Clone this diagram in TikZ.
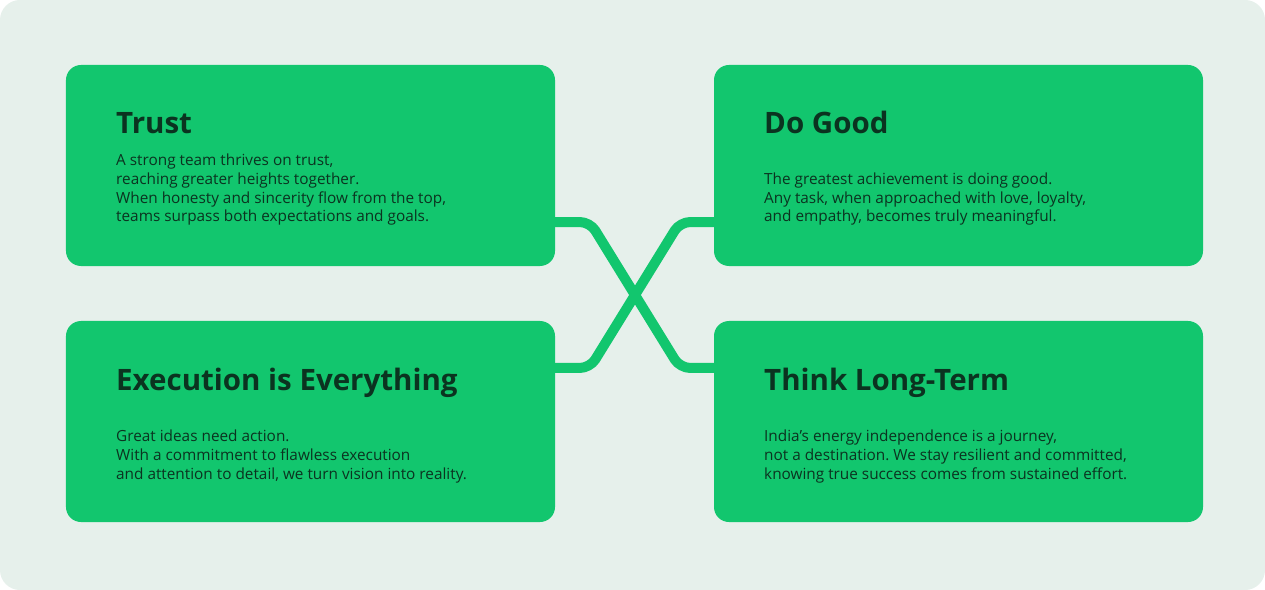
\documentclass[tikz,border=0pt]{standalone}
\usepackage{fontspec}
\setmainfont{Open Sans}
\frenchspacing
\definecolor{bg}{HTML}{E6F0EB}
\definecolor{grn}{HTML}{12C66E}
\definecolor{ink}{HTML}{0B3320}
\tikzset{
  box/.style={fill=grn, draw=none, rounded corners=15bp, minimum width=489bp, minimum height=201bp, inner sep=0},
  ttl/.style={anchor=base west, inner sep=0, text=ink, font=\fontsize{29.6}{36}\selectfont\bfseries},
  body/.style={anchor=base west, inner sep=0, text=ink, align=left, font=\fontsize{15.4}{19}\selectfont\frenchspacing},
  conn/.style={draw=grn, line width=10bp, rounded corners=10bp}
}
\begin{document}
\begin{tikzpicture}[x=1bp,y=-1bp]
\useasboundingbox (0,0) rectangle (1265,590);
\fill[white] (0,0) rectangle (1265,590);
\fill[bg, rounded corners=20bp] (0,0) rectangle (1265,590);
% connectors
\coordinate (a1) at (590,222);
\coordinate (a2) at (680,368);
\coordinate (b1) at (590,368);
\coordinate (b2) at (680,222);
\node[box] (tl) at (310.5,165.5) {};
\node[box] (bl) at (310.5,421.5) {};
\node[box] (tr) at (958.5,165.5) {};
\node[box] (br) at (958.5,421.5) {};
\draw[conn] ([yshift=44bp]tl.south east) -- (a1) -- (a2) -- ([yshift=-47bp]br.north west);
\draw[conn] ([yshift=-47bp]bl.north east) -- (b1) -- (b2) -- ([yshift=44bp]tr.south west);
% titles
\node[ttl] (t1) at (116,134) {Trust};
\node[ttl] (t2) at (764,134) {Do Good};
\node[ttl] (t3) at (116,390) {Execution is Everything};
\node[ttl] (t4) at (764,390) {Think Long-Term};
% bodies (anchor at baseline of last line)
\node[body] (d1) at (116,222) {A strong team thrives on trust,\\reaching greater heights together.\\When honesty and sincerity flow from the top,\\teams surpass both expectations and goals.};
\node[body] (d2) at (764,222) {The greatest achievement is doing good.\\Any task, when approached with love, loyalty,\\and empathy, becomes truly meaningful.};
\node[body] (d3) at (116,479) {Great ideas need action.\\With a commitment to flawless execution\\and attention to detail, we turn vision into reality.};
\node[body] (d4) at (764,479) {India’s energy independence is a journey,\\not a destination. We stay resilient and committed,\\knowing true success comes from sustained effort.};
\end{tikzpicture}
\end{document}
